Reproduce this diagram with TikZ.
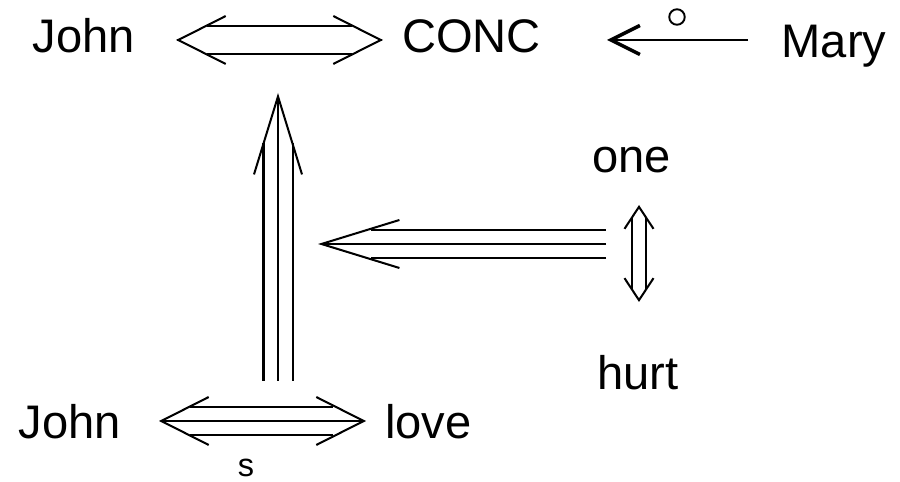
\documentclass[tikz,border=0pt]{standalone}
\usepackage{fontspec}
\setmainfont{Liberation Sans}
\usetikzlibrary{arrows.meta}

\begin{document}
\begin{tikzpicture}[
  x=1cm,y=1cm,
  word/.style={inner sep=0pt,anchor=base,font=\fontsize{26.8}{30}\selectfont},
  shaft/.style={line width=1.15pt},
  pair/.style={shaft,double,double distance=#1},
  bighead/.style={shaft,-{Straight Barb[length=1.56cm,width=0.96cm]}},
  midhead/.style={shaft,-{Straight Barb[length=0.95cm,width=0.96cm]}},
  midheads/.style={shaft,arrows={Straight Barb[length=0.95cm,width=0.96cm]-Straight Barb[length=0.95cm,width=0.96cm]}},
  smallhead/.style={shaft,-{Straight Barb[length=0.44cm,width=0.58cm]}}
]
\useasboundingbox (0,0) rectangle (18,9.64);
% words
\node[word] (johnA) at (1.68,8.58) {John};
\node[word] (conc) at (9.43,8.58) {CONC};
\node[word] (mary) at (16.68,8.48) {Mary};
\node[word] (one) at (12.63,6.18) {one};
\node[word] (hurt) at (12.76,1.84) {hurt};
\node[word] (johnB) at (1.40,0.86) {John};
\node[word] (love) at (8.57,0.86) {love};
\node[word,font=\fontsize{18.5}{20}\selectfont] (sense) at (4.92,0.10) {s};
% arrow ends
\coordinate (jcL) at (3.52,8.84);
\coordinate (jcR) at (7.66,8.84);
\coordinate (mTip) at (12.14,8.84);
\coordinate (mTail) at (14.96,8.84);
\coordinate (upTip) at (5.56,7.78);
\coordinate (upTail) at (5.56,2.02);
\coordinate (leftTip) at (6.36,4.76);
\coordinate (leftTail) at (12.12,4.76);
\coordinate (ohT) at (12.78,5.54);
\coordinate (ohB) at (12.78,3.60);
\coordinate (jlL) at (3.18,1.22);
\coordinate (jlR) at (7.32,1.22);
% John <=> CONC
\draw[pair=0.52cm,shorten <=0.62cm,shorten >=0.62cm] (jcL) -- (jcR);
\draw[midhead] ([xshift=0.5pt]jcL) -- (jcL);
\draw[midhead] ([xshift=-0.5pt]jcR) -- (jcR);
% Mary arrow with ring
\draw[line width=1.4pt,-{Straight Barb[length=0.58cm,width=0.58cm,line width=2pt]}] (mTail) -- (mTip);
\node[circle,draw,line width=1.1pt,minimum size=0.31cm,inner sep=0pt] (ring) at (13.54,9.30) {};
% upward triple arrow
\draw[pair=0.54cm,shorten >=1.0cm] (upTail) -- (upTip);
\draw[bighead] (upTail) -- (upTip);
% leftward triple arrow
\draw[pair=0.52cm,shorten >=1.06cm] (leftTail) -- (leftTip);
\draw[bighead] (leftTail) -- (leftTip);
% one <=> hurt
\draw[pair=0.24cm,shorten <=0.24cm,shorten >=0.24cm] (ohT) -- (ohB);
\draw[smallhead] ([yshift=-0.5pt]ohT) -- (ohT);
\draw[smallhead] ([yshift=0.5pt]ohB) -- (ohB);
% John <=> love
\draw[pair=0.52cm,shorten <=0.62cm,shorten >=0.66cm] (jlL) -- (jlR);
\draw[midheads] (jlL) -- (jlR);
\end{tikzpicture}
\end{document}
